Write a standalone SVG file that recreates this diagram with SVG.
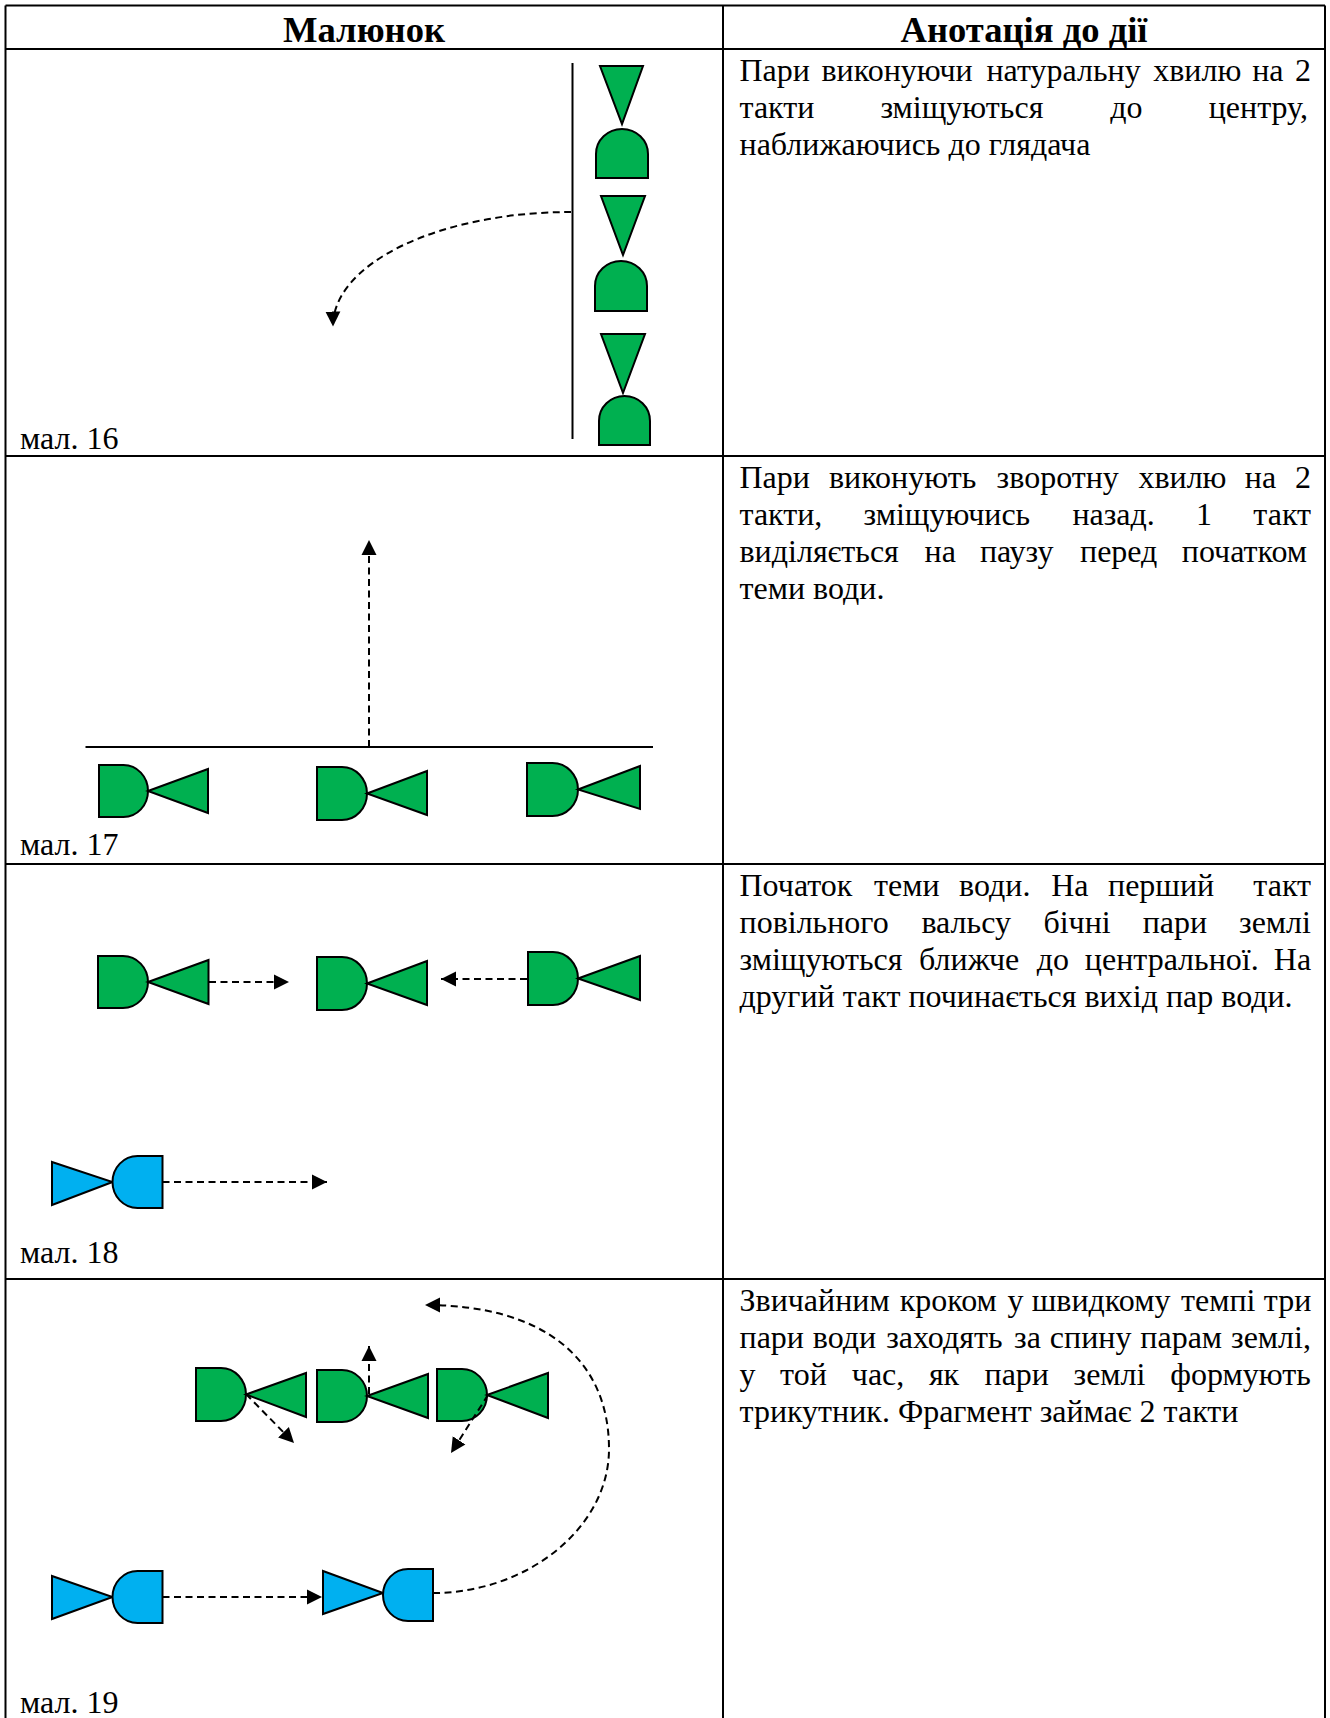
<svg xmlns="http://www.w3.org/2000/svg" width="1330" height="1718" viewBox="0 0 1330 1718">
  <style>
    .grid { stroke: #000; stroke-width: 2; fill: none; }
    .ln { stroke: #000; stroke-width: 2; fill: none; }
    .dash { stroke: #000; stroke-width: 2; fill: none; stroke-dasharray: 7 4.5; marker-end: url(#ah); }
    .g { fill: #00B050; stroke: #000; stroke-width: 2; stroke-linejoin: miter; }
    .b { fill: #00B0F0; stroke: #000; stroke-width: 2; stroke-linejoin: miter; }
    .hd { font-family: "Liberation Serif", "Times New Roman", serif; font-size: 36.6px; font-weight: bold; fill: #000; text-anchor: middle; }
    .tx { font-family: "Liberation Serif", "Times New Roman", serif; font-size: 32px; fill: #000; }
  </style>
  <defs>
    <marker id="ah" markerUnits="userSpaceOnUse" markerWidth="16" markerHeight="16" viewBox="0 0 16 16" refX="15" refY="8" orient="auto">
      <path d="M0,0.5 L15,8 L0,15.5 Z" fill="#000"/>
    </marker>
  </defs>
  <rect width="1330" height="1718" fill="#fff"/>

  <!-- table grid -->
  <g id="table">
    <path class="grid" d="M5.5,5.5 H1325 M5.5,49 H1325 M5.5,456 H1325 M5.5,864 H1325 M5.5,1279 H1325"/>
    <path class="grid" d="M5.5,5.5 V1718 M723,5.5 V1718 M1325,5.5 V1718"/>
  </g>

  <!-- header -->
  <g id="header">
    <text class="hd" x="364" y="41.5">Малюнок</text>
    <text class="hd" x="1024" y="41.5">Анотація до дії</text>
  </g>

  <!-- figure 16: vertical column of couples -->
  <g id="fig16">
    <path class="ln" d="M572.5,63 V439"/>
    <g id="f16-pair1">
      <path class="g" d="M600,66 L643,66 L622,124 Z"/>
      <path class="g" d="M596,178 V154 A26,25 0 0 1 648,154 V178 Z"/>
    </g>
    <g id="f16-pair2">
      <path class="g" d="M601,196 L645,196 L623,255 Z"/>
      <path class="g" d="M595,311 V286 A26,25 0 0 1 647,286 V311 Z"/>
    </g>
    <g id="f16-pair3">
      <path class="g" d="M601,334 L645,334 L623,393 Z"/>
      <path class="g" d="M599,445 V421 A25.5,25 0 0 1 650,421 V445 Z"/>
    </g>
    <text class="tx" x="20" y="449">мал. 16</text>
  </g>

  <!-- figure 17: line of three couples -->
  <g id="fig17">
    <path class="ln" d="M85.5,747 H653"/>
    <g id="f17-pair1">
      <path class="g" d="M99,765 H123.5 A24.5,26 0 0 1 123.5,817 H99 Z"/>
      <path class="g" d="M148,791 L208,769 L208,813 Z"/>
    </g>
    <g id="f17-pair2">
      <path class="g" d="M317,767 H342 A25,26.5 0 0 1 342,820 H317 Z"/>
      <path class="g" d="M367,793.5 L427,771 L427,815 Z"/>
    </g>
    <g id="f17-pair3">
      <path class="g" d="M527,763 H552.5 A25.5,26.5 0 0 1 552.5,816 H527 Z"/>
      <path class="g" d="M578,789.5 L640,766 L640,809 Z"/>
    </g>
    <text class="tx" x="20" y="854.5">мал. 17</text>
  </g>

  <!-- figure 18: earth couples close in, water couple enters -->
  <g id="fig18">
    <g id="f18-pair1">
      <path class="g" d="M98,956 H123 A25,26 0 0 1 123,1008 H98 Z"/>
      <path class="g" d="M148,982 L208.5,960 L208.5,1004 Z"/>
    </g>
    <g id="f18-pair2">
      <path class="g" d="M317,957 H342 A25,26.5 0 0 1 342,1010 H317 Z"/>
      <path class="g" d="M367,983.5 L427,961 L427,1005 Z"/>
    </g>
    <g id="f18-pair3">
      <path class="g" d="M528,952 H553 A25,26.5 0 0 1 553,1005 H528 Z"/>
      <path class="g" d="M578,978.5 L640,956 L640,1000 Z"/>
    </g>
    <g id="f18-water1">
      <path class="b" d="M52,1162 L112.5,1182 L52,1205 Z"/>
      <path class="b" d="M162.5,1156 H137.5 A25,26 0 0 0 137.5,1208 H162.5 Z"/>
    </g>
    <text class="tx" x="20" y="1263">мал. 18</text>
  </g>

  <!-- figure 19: water couples pass behind, earth couples form a triangle -->
  <g id="fig19">
    <g id="f19-pair1">
      <path class="g" d="M196,1368 H221 A25,26.5 0 0 1 221,1421 H196 Z"/>
      <path class="g" d="M246,1394.5 L306,1373 L306,1417 Z"/>
    </g>
    <g id="f19-pair2">
      <path class="g" d="M317,1370 H342 A25,26 0 0 1 342,1422 H317 Z"/>
      <path class="g" d="M367,1396 L428,1374 L428,1418 Z"/>
    </g>
    <g id="f19-pair3">
      <path class="g" d="M437,1369 H462 A25,26 0 0 1 462,1421 H437 Z"/>
      <path class="g" d="M487,1395 L548,1373 L548,1418 Z"/>
    </g>
    <g id="f19-water1">
      <path class="b" d="M52,1576 L112.5,1597 L52,1619 Z"/>
      <path class="b" d="M162.5,1571 H137.5 A25,26 0 0 0 137.5,1623 H162.5 Z"/>
    </g>
    <g id="f19-water2">
      <path class="b" d="M323,1571 L383,1593 L323,1614 Z"/>
      <path class="b" d="M433,1569 H408 A25,26 0 0 0 408,1621 H433 Z"/>
    </g>
    <text class="tx" x="20" y="1712.5">мал. 19</text>
  </g>

  <!-- movement paths -->
  <g id="connectors">
    <path class="dash" d="M571,212 A238,114 0 0 0 333,326.5"/>
    <path class="dash" d="M369,747 V540"/>
    <path class="dash" d="M209,982 H289"/>
    <path class="dash" d="M527,979 H441"/>
    <path class="dash" d="M162.5,1182 H327"/>
    <path class="dash" d="M369,1394 V1346"/>
    <path class="dash" d="M246,1394 L294,1443"/>
    <path class="dash" d="M488,1395 L451,1453"/>
    <path class="dash" d="M162.5,1597 H322"/>
    <path class="dash" d="M433,1593 C527,1593 609,1528 609,1449 C609,1360 545,1305 425,1305"/>
  </g>

  <!-- annotations -->
  <g id="notes" class="tx">
    <text y="81"><tspan x="739.5">Пари</tspan><tspan x="821.5">виконуючи</tspan><tspan x="986.4">натуральну</tspan><tspan x="1153.2">хвилю</tspan><tspan x="1252.2">на</tspan><tspan x="1295.1">2</tspan></text>
    <text y="118"><tspan x="739.5">такти</tspan><tspan x="880.4">зміщуються</tspan><tspan x="1110.3">до</tspan><tspan x="1208.7">центру,</tspan></text>
    <text x="739.5" y="155">наближаючись до глядача</text>

    <text y="488"><tspan x="739.5">Пари</tspan><tspan x="828.9">виконують</tspan><tspan x="996.6">зворотну</tspan><tspan x="1138.4">хвилю</tspan><tspan x="1244.8">на</tspan><tspan x="1295.1">2</tspan></text>
    <text y="525"><tspan x="739.5">такти,</tspan><tspan x="863.5">зміщуючись</tspan><tspan x="1072.4">назад.</tspan><tspan x="1196.1">1</tspan><tspan x="1253.3">такт</tspan></text>
    <text y="562"><tspan x="739.5">виділяється</tspan><tspan x="924.6">на</tspan><tspan x="979.9">паузу</tspan><tspan x="1080">перед</tspan><tspan x="1181.8">початком</tspan></text>
    <text x="739.5" y="599">теми води.</text>

    <text y="896"><tspan x="739.5">Початок</tspan><tspan x="874">теми</tspan><tspan x="959.1">води.</tspan><tspan x="1051.2">На</tspan><tspan x="1108">перший</tspan><tspan x="1253.3">такт</tspan></text>
    <text y="933"><tspan x="739.5">повільного</tspan><tspan x="921.4">вальсу</tspan><tspan x="1043.4">бічні</tspan><tspan x="1142.7">пари</tspan><tspan x="1239">землі</tspan></text>
    <text y="970"><tspan x="739.5">зміщуються</tspan><tspan x="919.1">ближче</tspan><tspan x="1036.7">до</tspan><tspan x="1084.8">центральної.</tspan><tspan x="1273.8">На</tspan></text>
    <text x="739.5" y="1007">другий такт починається вихід пар води.</text>

    <text y="1311"><tspan x="739.5">Звичайним</tspan><tspan x="899.7">кроком</tspan><tspan x="1007.4">у</tspan><tspan x="1031.7">швидкому</tspan><tspan x="1181">темпі</tspan><tspan x="1263.8">три</tspan></text>
    <text y="1348"><tspan x="739.5">пари</tspan><tspan x="812.8">води</tspan><tspan x="886.2">заходять</tspan><tspan x="1014.1">за</tspan><tspan x="1049.8">спину</tspan><tspan x="1140.3">парам</tspan><tspan x="1231">землі,</tspan></text>
    <text y="1385"><tspan x="739.5">у</tspan><tspan x="780.1">той</tspan><tspan x="851.8">час,</tspan><tspan x="928.9">як</tspan><tspan x="984.5">пари</tspan><tspan x="1073.5">землі</tspan><tspan x="1170.2">формують</tspan></text>
    <text x="739.5" y="1422">трикутник. Фрагмент займає 2 такти</text>
  </g>
</svg>
